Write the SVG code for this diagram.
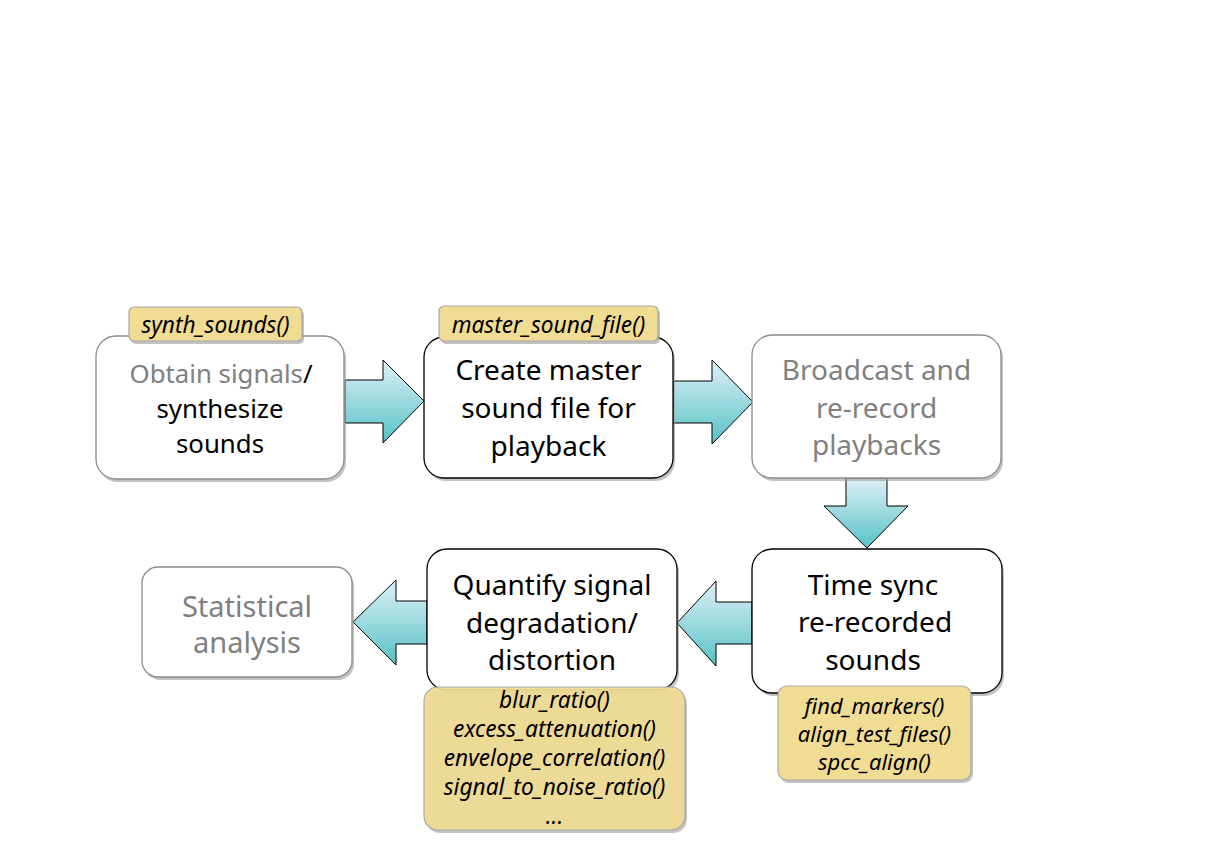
<svg xmlns="http://www.w3.org/2000/svg" width="1225" height="866" viewBox="0 0 1225 866">
<defs>
<linearGradient id="ag" x1="0" y1="0" x2="0" y2="1">
<stop offset="0" stop-color="#dff0f8"/>
<stop offset="1" stop-color="#55c2c5"/>
</linearGradient>
<style>
.box{fill:#ffffff;stroke-width:1.3}
.dark{stroke:#000000}
.light{stroke:#8c8c8c}
.shadow{fill:#9a9a9a;opacity:0.6}
.lab{fill:#f0dc93;stroke:#a8a8a8;stroke-width:1.2}
.arrow{fill:url(#ag);stroke:#000000;stroke-width:1}
.t{font-family:"Noto Sans","Open Sans",sans-serif;text-anchor:middle;font-size:28px}
.s26{font-size:25.8px}
.s29{font-size:29px}
.k{fill:#000000}
.g{fill:#808080}
.f{font-family:"Noto Sans","Open Sans",sans-serif;font-style:italic;text-anchor:middle;font-size:22.7px;fill:#000000}
.f2{font-size:22px}
</style>
</defs>
<rect width="1225" height="866" fill="#ffffff"/>

<g id="connectors">
<polygon class="arrow" points="345,380 383,380 383,360 424,401 383,443 383,423 345,423"/>
<polygon class="arrow" points="673,381 712,381 712,360 753,402 712,444 712,423 673,423"/>
<polygon class="arrow" points="846,478 887,478 887,506 908,506 867,548 824,506 846,506"/>
<polygon class="arrow" points="752,602 716,602 716,581 677,623 716,666 716,644 752,644"/>
<polygon class="arrow" points="427,601 396,601 396,580 353,622 396,665 396,644 427,644"/>
</g>

<g id="node-obtain">
<rect class="shadow" x="98" y="339" width="248" height="143" rx="20"/>
<rect class="box light" x="96" y="336" width="248" height="143" rx="20"/>
<text class="t s26" x="221" y="383"><tspan class="g">Obtain signals</tspan><tspan class="k">/</tspan></text>
<text class="t s26 k" x="220" y="418">synthesize</text>
<text class="t s26 k" x="220" y="453">sounds</text>
</g>
<g id="label-synth">
<rect class="shadow" x="131" y="310" width="173" height="34" rx="5"/>
<rect class="lab" x="129" y="307" width="173" height="34" rx="5"/>
<text class="f" x="215.5" y="333">synth_sounds()</text>
</g>

<g id="node-create">
<rect class="shadow" x="426" y="340" width="249" height="141" rx="20"/>
<rect class="box dark" x="424" y="337" width="249" height="141" rx="20"/>
<text class="t k" x="548.5" y="380">Create master</text>
<text class="t k" x="548.5" y="418">sound file for</text>
<text class="t k" x="548.5" y="456">playback</text>
</g>
<g id="label-master">
<rect class="shadow" x="441" y="309" width="219" height="35" rx="5"/>
<rect class="lab" x="439" y="306" width="219" height="35" rx="5"/>
<text class="f" x="548.5" y="333">master_sound_file()</text>
</g>

<g id="node-broadcast">
<rect class="shadow" x="754" y="338" width="249" height="143" rx="20"/>
<rect class="box light" x="752" y="335" width="249" height="143" rx="20"/>
<text class="t g" x="876.5" y="380">Broadcast and</text>
<text class="t g" x="876.5" y="418">re-record</text>
<text class="t g" x="876.5" y="455">playbacks</text>
</g>

<g id="node-timesync">
<rect class="shadow" x="754" y="552" width="250" height="144" rx="20"/>
<rect class="box dark" x="752" y="549" width="250" height="144" rx="20"/>
<text class="t k" x="873" y="595">Time sync</text>
<text class="t k" x="875" y="632">re-recorded</text>
<text class="t k" x="873" y="670">sounds</text>
</g>
<g id="label-timesync">
<rect class="shadow" x="780" y="689" width="193" height="94" rx="9"/>
<rect class="lab" x="778" y="686" width="193" height="94" rx="9"/>
<text class="f f2" x="874.5" y="714">find_markers()</text>
<text class="f f2" x="874.5" y="742">align_test_files()</text>
<text class="f f2" x="874.5" y="770">spcc_align()</text>
</g>

<g id="node-quantify">
<rect class="shadow" x="429" y="552" width="250" height="141" rx="20"/>
<rect class="box dark" x="427" y="549" width="250" height="141" rx="20"/>
<text class="t k" x="552" y="595">Quantify signal</text>
<text class="t k" x="552" y="633">degradation/</text>
<text class="t k" x="552" y="670">distortion</text>
</g>
<g id="label-quantify">
<rect class="shadow" x="426" y="690" width="261" height="143" rx="14"/>
<rect class="lab" x="424" y="687" width="261" height="143" rx="14" fill-opacity="0.93"/>
<text class="f" x="554.5" y="708">blur_ratio()</text>
<text class="f" x="554.5" y="737">excess_attenuation()</text>
<text class="f" x="554.5" y="766">envelope_correlation()</text>
<text class="f" x="554.5" y="795">signal_to_noise_ratio()</text>
<text class="f" x="554.5" y="824">...</text>
</g>

<g id="node-statistical">
<rect class="shadow" x="144" y="570" width="210" height="110" rx="16"/>
<rect class="box light" x="142" y="567" width="210" height="110" rx="16"/>
<text class="t s29 g" x="247" y="617">Statistical</text>
<text class="t s29 g" x="247" y="653">analysis</text>
</g>
</svg>
